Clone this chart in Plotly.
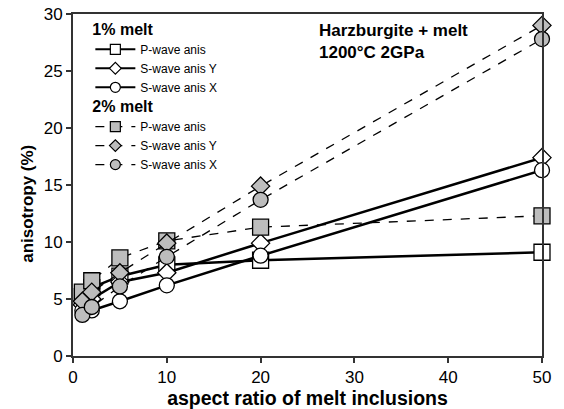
import plotly.graph_objects as go

aspect = [1, 2, 5, 10, 20, 50]
p1 = [5.2, 6.0, 7.0, 8.0, 8.4, 9.1]
sy1 = [4.5, 5.0, 6.5, 7.3, 9.9, 17.4]
sx1 = [4.0, 4.0, 4.8, 6.2, 8.8, 16.3]
p2 = [5.6, 6.6, 8.6, 10.1, 11.3, 12.3]
sy2 = [4.8, 5.6, 7.3, 9.9, 14.9, 29.0]
sx2 = [3.6, 4.3, 6.1, 8.7, 13.7, 27.8]
names = ["P-wave anis", "S-wave anis Y", "S-wave anis X"]

fig = go.Figure()
series = [
    ("1% melt", "legend", "solid", 2.5, "white", [p1, sy1, sx1]),
    ("2% melt", "legend2", "dash", 1.3, "#bdbdbd", [p2, sy2, sx2]),
]
symbols = ["square", "diamond", "circle"]
sizes = [16, 14, 15]
leg_sizes = [10, 9, 10]
for title, leg, dash, lw, fill, ys in series:
    for i, (nm, yv) in enumerate(zip(names, ys)):
        fig.add_trace(go.Scatter(
            x=aspect, y=yv, name=nm, mode="lines+markers",
            showlegend=False,
            line=dict(color="black", width=lw, dash=dash),
            marker=dict(symbol=symbols[i], size=sizes[i], color=fill,
                        line=dict(color="black", width=1.3)),
            cliponaxis=False,
        ))
# legend entries (no data points, smaller symbols as in the original key)
for title, leg, dash, lw, fill, ys in series:
    for i, nm in enumerate(names):
        fig.add_trace(go.Scatter(
            x=[None], y=[None], name=nm, mode="lines+markers", legend=leg,
            line=dict(color="black", width=min(lw, 2.0), dash=dash),
            marker=dict(symbol=symbols[i], size=leg_sizes[i], color=fill,
                        line=dict(color="black", width=1.2)),
        ))

fig.add_annotation(text="<b>Harzburgite + melt<br>1200°C 2GPa</b>", xref="paper", yref="paper",
                   x=0.52, y=0.985, xanchor="left", yanchor="top", showarrow=False, align="left",
                   font=dict(size=17, color="black"))
fig.add_annotation(text="<b>anisotropy (%)</b>", xref="paper", yref="paper",
                   x=-0.096, y=0.445, xanchor="center", yanchor="middle", showarrow=False,
                   textangle=-90, font=dict(size=17, color="black"))

axis_common = dict(showline=True, linecolor="#333", linewidth=1.8, mirror=True,
                   ticks="outside", ticklen=5, tickwidth=1.5, tickcolor="#333", showgrid=False, zeroline=False,
                   tickfont=dict(size=17, color="black"))
fig.update_xaxes(range=[0, 50], dtick=10, title=dict(text="<b>aspect ratio of melt inclusions</b>",
                 font=dict(size=19.5, color="black"), standoff=4), **axis_common)
fig.update_yaxes(range=[0, 30], dtick=5, **axis_common)

leg_common = dict(xanchor="left", yanchor="top", bgcolor="rgba(0,0,0,0)",
                  font=dict(size=12, color="black"), itemwidth=40, traceorder="normal")
fig.update_layout(
    width=564, height=409, margin=dict(l=73, r=22, t=14, b=53, autoexpand=False),
    paper_bgcolor="white", plot_bgcolor="white",
    font=dict(family="Liberation Sans, Arial, sans-serif", color="black"),
    legend=dict(x=0.037, y=1.0, title=dict(text="<b>1% melt</b>", side="top", font=dict(size=16)), **leg_common),
    legend2=dict(x=0.037, y=0.774, title=dict(text="<b>2% melt</b>", side="top", font=dict(size=16)), **leg_common),
    showlegend=True,
)
fig.write_html("out.html")
